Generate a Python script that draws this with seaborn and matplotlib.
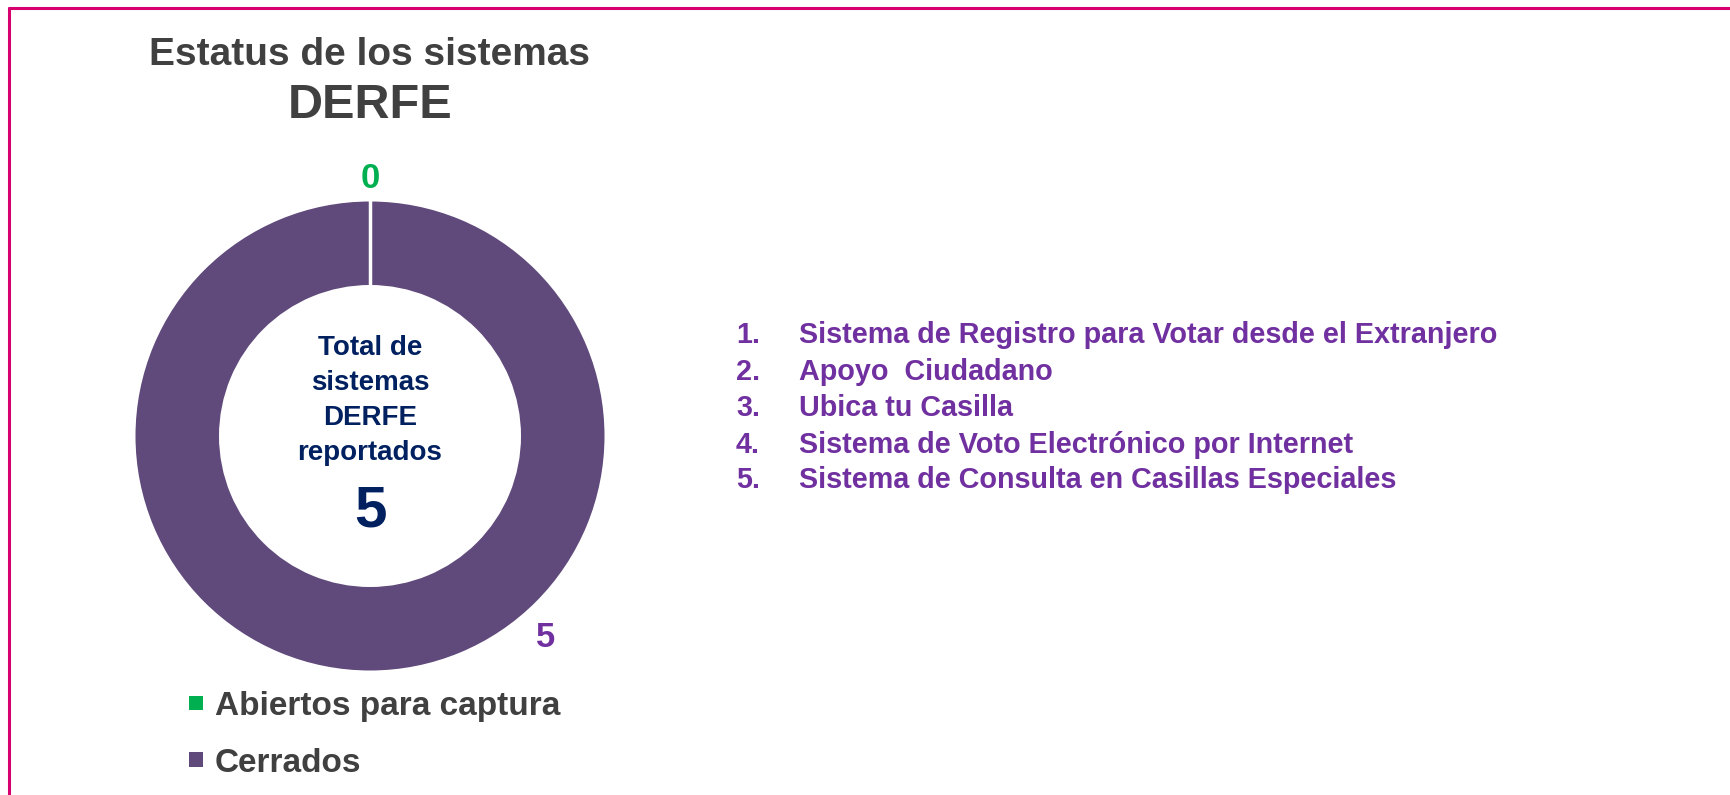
import matplotlib
matplotlib.use("Agg")
import matplotlib.pyplot as plt
import seaborn as sns
import numpy as np
from matplotlib.lines import Line2D

# ---- data ----
categories = ["Abiertos para captura", "Cerrados"]
values = [0, 5]
total = 5
systems = [
    "Sistema de Registro para Votar desde el Extranjero",
    "Apoyo  Ciudadano",
    "Ubica tu Casilla",
    "Sistema de Voto Electrónico por Internet",
    "Sistema de Consulta en Casillas Especiales",
]
title_line1 = "Estatus de los sistemas"
title_line2 = "DERFE"
center_label = "Total de\nsistemas\nDERFE\nreportados"

colors = ["#00B050", "#604A7B"]
label_colors = ["#00B050", "#7030A0"]

sns.set_theme(style="white")
plt.rcParams["font.family"] = ["Liberation Sans", "DejaVu Sans"]
plt.rcParams["font.weight"] = "bold"

W, H = 1731, 795
fig = plt.figure(figsize=(W / 100, H / 100), dpi=100)
fig.patch.set_facecolor("white")

def fx(x):
    return x / W

def fy(y):
    return 1 - y / H

# border (left + top)
fig.add_artist(Line2D([fx(9), fx(9)], [0, fy(8)], color="#D6006F", lw=2.2, transform=fig.transFigure))
fig.add_artist(Line2D([fx(9), 1], [fy(8), fy(8)], color="#D6006F", lw=2.2, transform=fig.transFigure))

# donut axes: center (370, 436), radius 234.5 px
cx, cy, R = 370, 436, 234.5
S = 600
ax = fig.add_axes([fx(cx - S / 2), fy(cy + S / 2), S / W, S / H])
L = (S / 2) / R
ring_w = 1 - 151 / 234.5
wedges, _ = ax.pie(values, colors=colors, startangle=90, counterclock=False,
                   radius=1.0, wedgeprops=dict(width=ring_w, linewidth=0))
ax.set_xlim(-L, L)
ax.set_ylim(-L, L)
ax.set_aspect("equal")
ax.axis("off")

# white separator at the boundary of the (empty) first slice
th = np.deg2rad(wedges[0].theta1)
rr = np.array([1 - ring_w - 0.01, 1.01])
ax.plot(rr * np.cos(th), rr * np.sin(th), color="white", lw=2.5, solid_capstyle="butt")

# value labels
for v, c, ang, dist in zip(values, label_colors, [90, -49], [1.10, 1.14]):
    a = np.deg2rad(ang)
    ax.text(dist * np.cos(a), dist * np.sin(a), str(v), color=c, fontsize=25,
            fontweight="bold", ha="center", va="center")

# center text
ax.text(0, 0.15, center_label, color="#002060", fontsize=20, fontweight="bold",
        ha="center", va="center", linespacing=1.45)
ax.text(0, -0.32, str(total), color="#002060", fontsize=42, fontweight="bold",
        ha="center", va="center")

# title
fig.text(fx(370), fy(55), title_line1, color="#404040", fontsize=28, fontweight="bold",
         ha="center", va="center")
fig.text(fx(370), fy(105), title_line2, color="#404040", fontsize=35, fontweight="bold",
         ha="center", va="center")

# legend
leg = fig.legend(wedges, categories, loc="upper left",
                 bbox_to_anchor=(fx(189), fy(691)), frameon=False,
                 borderaxespad=0, borderpad=0,
                 handlelength=0.43, handleheight=0.3, handletextpad=0.34,
                 labelspacing=0.77, prop=dict(size=24, weight="bold"))
for t in leg.get_texts():
    t.set_color("#404040")
for h in leg.legend_handles:
    h.set_edgecolor("none")

# numbered list
ys = [335, 372, 408, 445, 480]
for i, (name, y) in enumerate(zip(systems, ys), start=1):
    fig.text(fx(736), fy(y), f"{i}.", color="#7030A0", fontsize=20.7, fontweight="bold",
             ha="left", va="center")
    fig.text(fx(799), fy(y), name, color="#7030A0", fontsize=20.7, fontweight="bold",
             ha="left", va="center")

fig.savefig("out.png", dpi=100, facecolor="white")
